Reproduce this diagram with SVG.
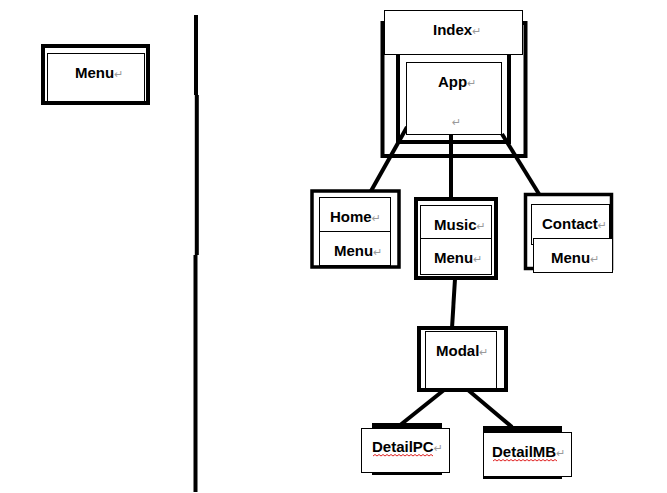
<svg xmlns="http://www.w3.org/2000/svg" width="667" height="493" viewBox="0 0 667 493">
<style>
.bg{fill:#fff}
.thick{fill:#fff;stroke:#000;stroke-width:4}
.thick3{fill:#fff;stroke:#000;stroke-width:3.5}
.thin{fill:#fff;stroke:#000;stroke-width:1}
.lbl{font-family:"Liberation Sans","Noto Sans CJK KR",sans-serif;font-weight:bold;font-size:15px;fill:#000}
.ret{font-family:"DejaVu Sans",sans-serif;font-weight:normal;font-size:11px;fill:#9a9a9a}
.conn{stroke:#000;stroke-width:4;fill:none}
.wave{stroke:#e02020;stroke-width:1;fill:none}
</style>
<rect class="bg" width="667" height="493"/>

<g id="divider">
<path class="conn" d="M196 15 V95 M196.8 95 V255 M195.5 255 V492" stroke-width="3.5"/>
</g>

<g id="menu-left">
<rect class="thick" x="43" y="46" width="105" height="57"/>
<rect class="thin" x="47.5" y="53.5" width="97" height="48"/>
<text class="lbl" x="75" y="78">Menu<tspan class="ret">↵</tspan></text>
</g>

<g id="connectors">
<line class="conn" x1="407" y1="127" x2="371" y2="191"/>
<line class="conn" x1="451" y1="135" x2="451" y2="199"/>
<line class="conn" x1="502" y1="134" x2="539" y2="194"/>
<line class="conn" x1="455" y1="279" x2="452" y2="328"/>
<line class="conn" x1="444" y1="390" x2="399" y2="426"/>
<line class="conn" x1="468" y1="390" x2="512" y2="427"/>
</g>

<g id="index">
<rect class="thick" x="382.5" y="23" width="143" height="133" style="fill:none"/>
<rect class="thick" x="398" y="40" width="111" height="102" style="fill:none"/>
<rect class="thin" x="384.5" y="10.5" width="138" height="44"/>
<text class="lbl" x="433" y="35">Index<tspan class="ret">↵</tspan></text>
</g>

<g id="app">
<rect class="thin" x="406.5" y="62.5" width="95" height="72"/>
<text class="lbl" x="438" y="87">App<tspan class="ret">↵</tspan></text>
<text class="ret" x="452" y="126">↵</text>
</g>

<g id="home">
<rect class="thick3" x="312" y="191" width="87" height="76"/>
<rect class="thin" x="319.5" y="197.5" width="71" height="68"/>
<line stroke="#000" stroke-width="1" x1="319.5" y1="231.5" x2="390.5" y2="231.5"/>
<text class="lbl" x="330" y="222">Home<tspan class="ret">↵</tspan></text>
<text class="lbl" x="334" y="256">Menu<tspan class="ret">↵</tspan></text>
</g>

<g id="music">
<rect class="thick" x="416" y="199" width="80" height="79"/>
<rect class="thin" x="420.5" y="205.5" width="71" height="69"/>
<line stroke="#000" stroke-width="1" x1="420.5" y1="238.5" x2="491.5" y2="238.5"/>
<text class="lbl" x="434" y="230">Music<tspan class="ret">↵</tspan></text>
<text class="lbl" x="434" y="263">Menu<tspan class="ret">↵</tspan></text>
</g>

<g id="contact">
<rect class="thick3" x="525.5" y="194.5" width="86" height="74"/>
<rect class="thin" x="531.5" y="204.5" width="78" height="40"/>
<rect class="thin" x="533.5" y="238.5" width="79" height="34"/>
<text class="lbl" x="542" y="229">Contact<tspan class="ret">↵</tspan></text>
<text class="lbl" x="551" y="263">Menu<tspan class="ret">↵</tspan></text>
</g>

<g id="modal">
<rect class="thick" x="419" y="328" width="87" height="62"/>
<rect class="thin" x="425.5" y="331.5" width="71" height="57"/>
<text class="lbl" x="436" y="356">Modal<tspan class="ret">↵</tspan></text>
</g>

<g id="detailpc">
<rect x="372" y="423" width="70" height="52" fill="#000"/>
<rect class="thin" x="361.5" y="428.5" width="88" height="44"/>
<text class="lbl" x="372" y="452">DetailPC<tspan class="ret">↵</tspan></text>
<path class="wave" d="M373 456 l2 -1.5 l2 1.5 l2 -1.5 l2 1.5 l2 -1.5 l2 1.5 l2 -1.5 l2 1.5 l2 -1.5 l2 1.5 l2 -1.5 l2 1.5 l2 -1.5 l2 1.5 l2 -1.5 l2 1.5 l2 -1.5 l2 1.5 l2 -1.5 l2 1.5 l2 -1.5 l2 1.5 l2 -1.5 l2 1.5 l2 -1.5 l2 1.5 l2 -1.5 l2 1.5 l2 -1.5 l2 1.5"/>
</g>

<g id="detailmb">
<rect x="483" y="426" width="79" height="53" fill="#000"/>
<rect class="thin" x="483.5" y="432.5" width="88" height="44"/>
<text class="lbl" x="492" y="457">DetailMB<tspan class="ret">↵</tspan></text>
<path class="wave" d="M493 461 l2 -1.5 l2 1.5 l2 -1.5 l2 1.5 l2 -1.5 l2 1.5 l2 -1.5 l2 1.5 l2 -1.5 l2 1.5 l2 -1.5 l2 1.5 l2 -1.5 l2 1.5 l2 -1.5 l2 1.5 l2 -1.5 l2 1.5 l2 -1.5 l2 1.5 l2 -1.5 l2 1.5 l2 -1.5 l2 1.5 l2 -1.5 l2 1.5 l2 -1.5 l2 1.5 l2 -1.5 l2 1.5 l2 -1.5 l2 1.5"/>
</g>
</svg>
